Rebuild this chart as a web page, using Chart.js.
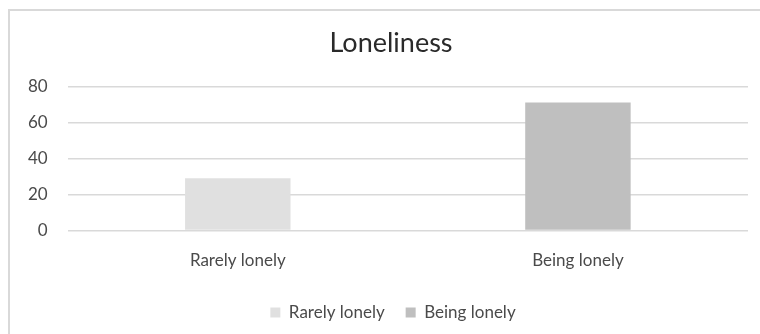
<!DOCTYPE html>
<html>
<head>
<meta charset="utf-8">
<script src="https://cdn.jsdelivr.net/npm/chart.js@4/dist/chart.umd.min.js"></script>
<style>
  html, body { margin: 0; padding: 0; background: #fff; }
  #wrap { position: relative; width: 760px; height: 334px; }
  #frame {
    position: absolute; left: 8px; top: 9px; right: -10px; bottom: -10px;
    border-left: 2px solid #d9d9d9; border-top: 2px solid #d9d9d9;
  }
  canvas { position: absolute; left: 0; top: 0; }
</style>
</head>
<body>
<div id="wrap">
  <div id="frame"></div>
  <canvas id="lonelyChart" width="760" height="334"></canvas>
</div>
<script>
/* chart data */
var categories = ['Rarely lonely', 'Being lonely'];
var values = [29, 71];
var barColors = ['#e0e0e0', '#bfbfbf'];
var yTicks = [0, 20, 40, 60, 80];

var textColor = '#4a4a4a';
var fontFamily = 'Lato, "Open Sans", sans-serif';

// nudge the title and legend a little to the right of the canvas centre
var centreShift = {
    id: 'centreShift',
    afterLayout: function(chart) {
        chart.titleBlock.left += 26;
        chart.legend.left += 30;
    }
};

var ctx = document.getElementById('lonelyChart').getContext('2d');
var lonelyChart = new Chart(ctx, {
    type: 'bar',
    data: {
        labels: categories,
        datasets: [{
            label: 'Loneliness',
            data: values,
            backgroundColor: barColors,
            borderWidth: 0,
            barPercentage: 0.31,
            categoryPercentage: 1
        }]
    },
    plugins: [centreShift],
    options: {
        responsive: false,
        animation: false,
        layout: {
            padding: { left: 8, right: 12, top: 27, bottom: 3 }
        },
        plugins: {
            title: {
                display: true,
                text: 'Loneliness',
                color: '#2a2a2a',
                font: { family: fontFamily, size: 27, weight: 'normal' },
                padding: { top: 0, bottom: 27 }
            },
            legend: {
                position: 'bottom',
                onClick: null,
                labels: {
                    color: textColor,
                    font: { family: fontFamily, size: 17 },
                    boxWidth: 10,
                    boxHeight: 10,
                    padding: 21,
                    // one legend entry per category, like a vary-colors series
                    generateLabels: function(chart) {
                        return chart.data.labels.map(function(lbl, i) {
                            return {
                                text: lbl,
                                fillStyle: barColors[i],
                                strokeStyle: barColors[i],
                                lineWidth: 0,
                                fontColor: textColor,
                                index: i
                            };
                        });
                    }
                }
            },
            tooltip: { enabled: false }
        },
        scales: {
            x: {
                grid: { display: false, drawTicks: false },
                border: { display: false },
                ticks: {
                    color: textColor,
                    font: { family: fontFamily, size: 17 },
                    padding: 20
                },
                afterFit: function(axis) {
                    axis.height -= 8;
                }
            },
            y: {
                min: 0,
                max: 80,
                afterBuildTicks: function(axis) {
                    axis.ticks = yTicks.map(function(v) { return { value: v }; });
                },
                grid: { color: '#d9d9d9', lineWidth: 1.5, drawTicks: false },
                border: { display: false },
                ticks: {
                    color: textColor,
                    font: { family: fontFamily, size: 17 },
                    padding: 20
                }
            }
        }
    }
});
</script>
</body>
</html>
